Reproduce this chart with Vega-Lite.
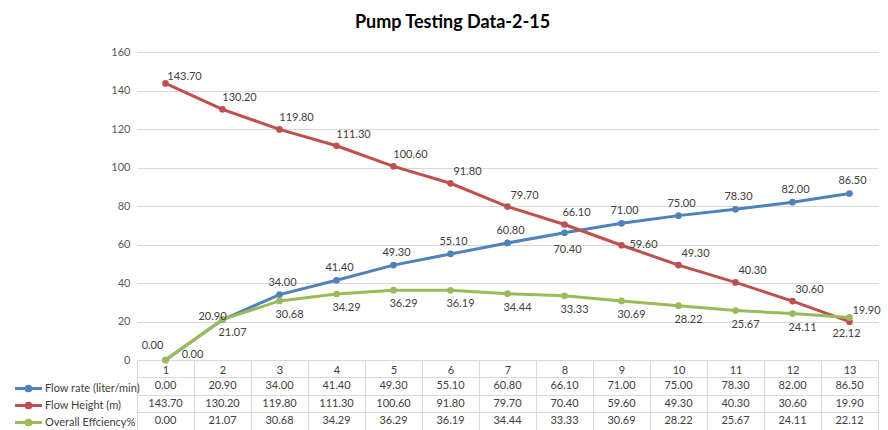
{
  "$schema": "https://vega.github.io/schema/vega-lite/v6.json",
  "width": 741,
  "height": 308,
  "autosize": "none",
  "padding": {"left": 137, "top": 52, "right": 10, "bottom": 70},
  "config": {"font": "Lato", "view": {"stroke": null}},
  "title": {"text": "Pump Testing Data-2-15", "fontSize": 18, "fontWeight": "bold", "font": "Lato", "color": "#000000", "anchor": "middle", "dx": -55, "offset": 14},
  "data": {"values": [
    {"cat": 1, "series": "Flow rate (liter/min)", "value": 0},
    {"cat": 2, "series": "Flow rate (liter/min)", "value": 20.9},
    {"cat": 3, "series": "Flow rate (liter/min)", "value": 34},
    {"cat": 4, "series": "Flow rate (liter/min)", "value": 41.4},
    {"cat": 5, "series": "Flow rate (liter/min)", "value": 49.3},
    {"cat": 6, "series": "Flow rate (liter/min)", "value": 55.1},
    {"cat": 7, "series": "Flow rate (liter/min)", "value": 60.8},
    {"cat": 8, "series": "Flow rate (liter/min)", "value": 66.1},
    {"cat": 9, "series": "Flow rate (liter/min)", "value": 71},
    {"cat": 10, "series": "Flow rate (liter/min)", "value": 75},
    {"cat": 11, "series": "Flow rate (liter/min)", "value": 78.3},
    {"cat": 12, "series": "Flow rate (liter/min)", "value": 82},
    {"cat": 13, "series": "Flow rate (liter/min)", "value": 86.5},
    {"cat": 1, "series": "Flow Height (m)", "value": 143.7},
    {"cat": 2, "series": "Flow Height (m)", "value": 130.2},
    {"cat": 3, "series": "Flow Height (m)", "value": 119.8},
    {"cat": 4, "series": "Flow Height (m)", "value": 111.3},
    {"cat": 5, "series": "Flow Height (m)", "value": 100.6},
    {"cat": 6, "series": "Flow Height (m)", "value": 91.8},
    {"cat": 7, "series": "Flow Height (m)", "value": 79.7},
    {"cat": 8, "series": "Flow Height (m)", "value": 70.4},
    {"cat": 9, "series": "Flow Height (m)", "value": 59.6},
    {"cat": 10, "series": "Flow Height (m)", "value": 49.3},
    {"cat": 11, "series": "Flow Height (m)", "value": 40.3},
    {"cat": 12, "series": "Flow Height (m)", "value": 30.6},
    {"cat": 13, "series": "Flow Height (m)", "value": 19.9},
    {"cat": 1, "series": "Overall Effciency%", "value": 0},
    {"cat": 2, "series": "Overall Effciency%", "value": 21.07},
    {"cat": 3, "series": "Overall Effciency%", "value": 30.68},
    {"cat": 4, "series": "Overall Effciency%", "value": 34.29},
    {"cat": 5, "series": "Overall Effciency%", "value": 36.29},
    {"cat": 6, "series": "Overall Effciency%", "value": 36.19},
    {"cat": 7, "series": "Overall Effciency%", "value": 34.44},
    {"cat": 8, "series": "Overall Effciency%", "value": 33.33},
    {"cat": 9, "series": "Overall Effciency%", "value": 30.69},
    {"cat": 10, "series": "Overall Effciency%", "value": 28.22},
    {"cat": 11, "series": "Overall Effciency%", "value": 25.67},
    {"cat": 12, "series": "Overall Effciency%", "value": 24.11},
    {"cat": 13, "series": "Overall Effciency%", "value": 22.12}
  ]},
  "encoding": {
    "x": {
      "field": "cat", "type": "ordinal", "bandPosition": 0.5,
      "scale": {"type": "band", "paddingInner": 0, "paddingOuter": 0},
      "axis": {"title": null, "labelAngle": 0, "domainColor": "#d9d9d9", "tickColor": "#d9d9d9", "tickSize": 70, "tickBand": "extent", "labelPadding": -66, "labelFontSize": 11, "labelColor": "#404040", "grid": false}
    }
  },
  "layer": [
    {
      "encoding": {
        "y": {"field": "value", "type": "quantitative", "scale": {"domain": [0, 160]},
          "axis": {"title": null, "values": [0, 20, 40, 60, 80, 100, 120, 140, 160], "domain": false, "ticks": false, "labelPadding": 7, "labelFontSize": 11, "labelColor": "#595959", "gridColor": "#d9d9d9"}},
        "text": {"field": "value", "type": "quantitative", "format": ".2f"}
      },
      "layer": [
        {
          "mark": {"type": "line", "strokeWidth": 3, "point": {"filled": true, "size": 45}},
          "encoding": {
            "color": {"field": "series", "type": "nominal",
              "scale": {"domain": ["Flow rate (liter/min)", "Flow Height (m)", "Overall Effciency%"], "range": ["#4f81bd", "#c0504d", "#9bbb59"]},
              "legend": {"title": null, "orient": "none", "legendX": -117, "legendY": 328, "direction": "vertical",
                "symbolType": "M-2,0H2M-0.35,0A0.35,0.35,0,1,1,0.35,0A0.35,0.35,0,1,1,-0.35,0",
                "symbolSize": 182, "symbolStrokeWidth": 3, "labelOffset": 8, "labelFontSize": 11, "labelColor": "#404040", "rowPadding": 0, "padding": 0, "labelLimit": 200}}
          }
        },
        {"transform": [{"filter": {"and": [{"field": "series", "equal": "Flow rate (liter/min)"}, {"not": {"field": "cat", "oneOf": [1, 2, 8]}}]}}],
         "mark": {"type": "text", "fontSize": 11, "color": "#404040", "dx": 3, "dy": -12}},
        {"transform": [{"filter": {"and": [{"field": "series", "equal": "Flow rate (liter/min)"}, {"field": "cat", "equal": 1}]}}],
         "mark": {"type": "text", "fontSize": 11, "color": "#404040", "dx": -13, "dy": -14}},
        {"transform": [{"filter": {"and": [{"field": "series", "equal": "Flow rate (liter/min)"}, {"field": "cat", "equal": 2}]}}],
         "mark": {"type": "text", "fontSize": 11, "color": "#404040", "dx": -10, "dy": -3}},
        {"transform": [{"filter": {"and": [{"field": "series", "equal": "Flow rate (liter/min)"}, {"field": "cat", "equal": 8}]}}],
         "mark": {"type": "text", "fontSize": 11, "color": "#404040", "dx": 12, "dy": -20}},
        {"transform": [{"filter": {"and": [{"field": "series", "equal": "Flow Height (m)"}, {"not": {"field": "cat", "oneOf": [1, 8, 9]}}]}}],
         "mark": {"type": "text", "fontSize": 11, "color": "#404040", "dx": 17, "dy": -11}},
        {"transform": [{"filter": {"and": [{"field": "series", "equal": "Flow Height (m)"}, {"field": "cat", "equal": 1}]}}],
         "mark": {"type": "text", "fontSize": 11, "color": "#404040", "dx": 19, "dy": -6}},
        {"transform": [{"filter": {"and": [{"field": "series", "equal": "Flow Height (m)"}, {"field": "cat", "equal": 8}]}}],
         "mark": {"type": "text", "fontSize": 11, "color": "#404040", "dx": 3, "dy": 26}},
        {"transform": [{"filter": {"and": [{"field": "series", "equal": "Flow Height (m)"}, {"field": "cat", "equal": 9}]}}],
         "mark": {"type": "text", "fontSize": 11, "color": "#404040", "dx": 22, "dy": 0}},
        {"transform": [{"filter": {"and": [{"field": "series", "equal": "Overall Effciency%"}, {"not": {"field": "cat", "oneOf": [1, 13]}}]}}],
         "mark": {"type": "text", "fontSize": 11, "color": "#404040", "dx": 10, "dy": 14}},
        {"transform": [{"filter": {"and": [{"field": "series", "equal": "Overall Effciency%"}, {"field": "cat", "equal": 1}]}}],
         "mark": {"type": "text", "fontSize": 11, "color": "#404040", "dx": 27, "dy": -5}},
        {"transform": [{"filter": {"and": [{"field": "series", "equal": "Overall Effciency%"}, {"field": "cat", "equal": 13}]}}],
         "mark": {"type": "text", "fontSize": 11, "color": "#404040", "dx": -3, "dy": 17}}
      ]
    },
    {
      "mark": {"type": "text", "fontSize": 11, "color": "#404040"},
      "encoding": {
        "y": {"field": "series", "type": "nominal",
          "scale": {"type": "band", "domain": ["Flow rate (liter/min)", "Flow Height (m)", "Overall Effciency%"], "range": [325, 378], "paddingInner": 0, "paddingOuter": 0},
          "axis": {"orient": "right", "title": null, "labels": false, "ticks": false, "domain": false, "grid": true, "gridColor": "#d9d9d9", "tickBand": "extent"}},
        "text": {"field": "value", "type": "quantitative", "format": ".2f"}
      }
    }
  ],
  "resolve": {"scale": {"y": "independent"}, "axis": {"y": "independent"}}
}
